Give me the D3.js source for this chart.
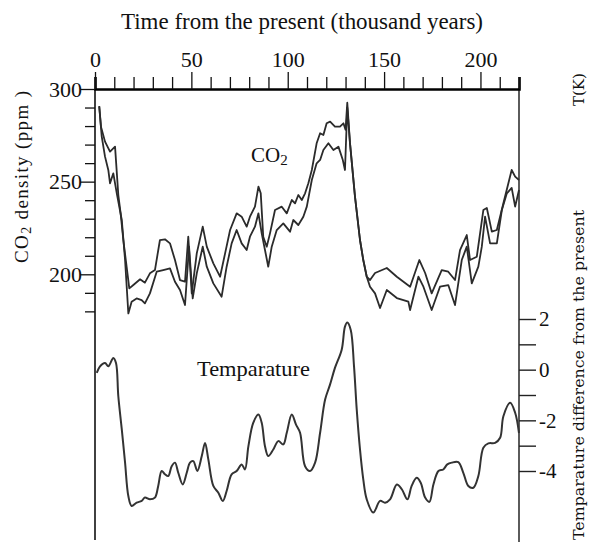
<!DOCTYPE html>
<html>
<head>
<meta charset="utf-8">
<script src="https://cdn.jsdelivr.net/npm/d3@7/dist/d3.min.js"></script>
<style>
  html, body { margin: 0; padding: 0; background: #fff; }
  svg { display: block; }
  text { font-family: "Liberation Serif", "Times New Roman", serif; fill: #111; }
</style>
</head>
<body>
<svg id="chart" width="592" height="542"></svg>
<script>
// Age in thousand years before present, CO2 in ppm (two ice-core envelope traces)
const co2Upper = [
  [2.2,290.8],[3.1,279.7],[5.2,271.6],[7.8,266.2],[10.4,268.9],[12.1,242.8],[13.3,232.9],[14.7,218.5],
  [16.4,204.1],[17.8,192.4],[19.9,194.2],[23.4,197.3],[25.9,195.5],[28.5,200.5],[31.1,202.3],[33.7,218.5],
  [36.3,218.9],[38.9,216.7],[41.5,207.7],[44.1,196.9],[46.7,196.0],[48.4,220.3],[50.2,189.7],[52.8,211.3],
  [55.9,225.7],[58.0,214.9],[61.4,205.9],[64.9,198.7],[67.5,211.3],[70.1,223.9],[73.5,232.9],[76.1,231.1],
  [78.7,225.7],[80.4,231.1],[83.0,236.5],[84.8,247.3],[86.0,243.7],[87.3,220.3],[89.1,214.9],[90.8,222.1],
  [93.4,234.7],[96.9,236.5],[99.5,232.9],[102.1,240.1],[103.8,238.3],[105.5,242.8],[107.3,240.1],[109.0,243.7],
  [110.7,249.1],[112.5,256.3],[115.0,270.7],[116.8,276.1],[118.5,275.2],[120.2,281.5],[122.0,282.4],[124.5,279.7],
  [127.1,279.7],[128.9,281.5],[130.0,278.0],[130.9,292.6],[132.3,270.9],[134.9,241.9],[137.5,218.5],[139.2,207.7],
  [141.0,198.7],[142.7,196.9],[145.3,200.7],[151.4,203.4],[156.6,198.7],[163.5,193.3],[168.3,207.7],[171.3,200.7],
  [174.7,189.7],[179.9,202.3],[183.3,201.4],[186.8,196.9],[189.4,213.1],[192.9,221.2],[194.6,207.7],[198.1,209.5],
  [201.5,234.7],[203.3,235.8],[205.9,223.0],[208.5,223.9],[211.9,238.3],[216.2,256.3],[218.0,252.7],[220.0,250.9]
];
const co2Lower = [
  [2.2,290.4],[3.5,274.3],[5.2,263.5],[6.9,256.3],[7.8,249.1],[9.5,254.5],[11.3,243.7],[13.9,229.3],
  [15.6,207.7],[17.3,178.9],[19.0,185.2],[21.6,187.0],[24.2,186.1],[25.9,184.3],[28.5,189.7],[32.0,201.4],
  [35.4,202.3],[38.9,203.2],[41.5,196.0],[44.1,191.5],[46.7,183.4],[48.8,214.9],[50.7,187.0],[52.8,200.5],
  [55.9,214.9],[58.0,204.1],[61.4,195.1],[65.7,187.9],[68.3,204.1],[70.9,216.7],[73.5,223.9],[76.1,216.7],
  [78.7,213.1],[80.4,220.3],[83.0,225.7],[84.8,232.9],[86.5,222.1],[88.2,213.1],[89.9,204.1],[91.7,214.9],
  [94.3,223.9],[97.7,227.5],[101.2,223.0],[102.9,229.3],[105.5,226.6],[108.1,231.1],[109.9,236.5],[112.5,250.9],
  [115.0,259.9],[116.8,261.7],[118.5,267.1],[121.1,270.7],[123.7,267.1],[126.3,268.9],[128.5,262.0],[129.7,256.3],
  [130.9,290.0],[132.3,270.9],[134.9,241.9],[137.5,218.5],[139.2,207.7],[141.0,198.7],[142.7,193.3],[145.3,189.7],
  [147.9,181.8],[151.4,191.5],[156.6,187.2],[162.6,185.2],[163.5,180.7],[167.8,198.7],[170.4,193.3],[174.7,180.7],
  [179.0,193.3],[183.3,194.2],[186.8,183.4],[190.3,207.7],[192.9,214.9],[195.5,195.1],[198.9,204.1],[200.7,214.9],
  [202.4,231.1],[205.0,216.7],[208.5,216.7],[211.1,234.7],[213.7,243.7],[216.2,246.6],[218.0,236.5],[220.0,245.5]
];
// Temperature difference from the present, K
const tempDiff = [
  [0.9,-0.13],[2.6,0.13],[5.2,0.26],[6.9,0.13],[9.5,0.46],[10.9,0.26],[12.1,-1.05],[13.9,-2.36],
  [15.6,-3.67],[17.3,-4.99],[19.0,-5.38],[21.6,-5.25],[24.2,-5.18],[25.9,-5.05],[28.5,-5.12],[31.1,-5.05],
  [32.8,-4.59],[34.6,-4.0],[36.3,-4.13],[38.0,-4.20],[39.8,-3.81],[41.5,-3.67],[43.2,-4.07],[45.5,-4.53],
  [47.6,-4.07],[49.3,-3.67],[51.0,-3.61],[53.1,-4.0],[55.4,-3.41],[57.1,-2.89],[58.8,-3.54],[61.4,-4.59],
  [64.0,-4.86],[66.3,-5.18],[68.3,-4.79],[70.9,-4.13],[73.5,-4.0],[76.1,-3.74],[77.8,-3.94],[79.6,-3.02],
  [82.1,-2.10],[84.8,-1.77],[86.5,-2.10],[88.2,-3.02],[89.9,-3.41],[92.5,-3.15],[95.1,-2.82],[97.7,-2.95],
  [99.5,-2.49],[102.1,-1.77],[104.3,-2.17],[106.4,-2.49],[109.0,-3.81],[111.6,-4.0],[114.2,-3.67],[116.8,-2.49],
  [119.4,-1.18],[121.9,-0.6],[124.5,0.07],[128.0,0.79],[129.7,1.70],[130.9,1.86],[132.7,1.57],[134.4,0.13],
  [135.8,-1.57],[137.5,-3.15],[139.2,-4.33],[141.0,-5.12],[144.4,-5.64],[147.9,-5.18],[150.5,-5.25],[153.1,-5.12],
  [156.6,-4.53],[159.2,-4.72],[162.1,-5.12],[164.3,-4.59],[166.9,-4.27],[169.0,-4.46],[171.3,-5.05],[173.5,-5.22],
  [175.6,-4.53],[178.2,-4.0],[180.7,-3.94],[182.8,-3.74],[185.1,-3.67],[188.5,-3.65],[191.1,-4.07],[193.7,-4.59],
  [196.3,-4.66],[198.9,-4.20],[201.5,-3.08],[204.1,-2.91],[207.6,-2.89],[210.2,-2.69],[211.9,-1.84],[215.4,-1.31],
  [218.0,-1.70],[220.0,-2.5]
];

const ageTicks = d3.range(0, 221, 10);
const ageLabels = [0, 50, 100, 150, 200];
const co2Ticks = d3.range(180, 301, 10);
const co2Labels = [200, 250, 300];
const tempTicks = d3.range(-4, 3, 1);
const tempLabels = [-4, -2, 0, 2];

const svg = d3.select("#chart");

const x = d3.scaleLinear().domain([0, 220]).range([95, 519]);
const yC = d3.scaleLinear().domain([200, 300]).range([274.3, 89]);
const yT = d3.scaleLinear().domain([-4, 2]).range([471, 319]);

// frame sides
svg.append("line").attr("x1", x(0)).attr("x2", x(0)).attr("y1", yC(300)).attr("y2", 540)
  .attr("stroke", "#111").attr("stroke-width", 1.6);
svg.append("line").attr("x1", x(220)).attr("x2", x(220)).attr("y1", yC(300)).attr("y2", 542)
  .attr("stroke", "#333").attr("stroke-width", 1.6);

// top time axis
const gTop = svg.append("g").attr("transform", `translate(0,${yC(300)})`)
  .call(d3.axisTop(x).tickValues(ageTicks).tickSize(12).tickPadding(5)
    .tickFormat(d => ageLabels.includes(d) ? d : ""));
gTop.select(".domain").attr("stroke", "#000").attr("stroke-width", 2.6);
gTop.selectAll(".tick line").attr("stroke", "#111").attr("stroke-width", 1.3)
  .attr("y2", d => ageLabels.includes(d) ? -17 : -12);
gTop.selectAll(".tick text").attr("y", -22)
  .style("font-family", "Liberation Serif").style("font-size", "22px").attr("fill", "#111");

// left CO2 axis
const gLeft = svg.append("g").attr("transform", `translate(${x(0)},0)`)
  .call(d3.axisLeft(yC).tickValues(co2Ticks).tickSize(10).tickPadding(1)
    .tickFormat(d => co2Labels.includes(d) ? d : ""));
gLeft.select(".domain").remove();
gLeft.selectAll(".tick line").attr("stroke", "#111").attr("stroke-width", 1.3)
  .attr("x2", d => co2Labels.includes(d) ? -15 : -10);
gLeft.selectAll(".tick text").attr("x", -13)
  .style("font-family", "Liberation Serif").style("font-size", "22px").attr("fill", "#111");

// right temperature axis
const gRight = svg.append("g").attr("transform", `translate(${x(220)},0)`)
  .call(d3.axisRight(yT).tickValues(tempTicks).tickSize(17).tickPadding(3)
    .tickFormat(d => tempLabels.includes(d) ? String(d) : ""));
gRight.select(".domain").remove();
gRight.selectAll(".tick line").attr("stroke", "#222").attr("stroke-width", 1.4);
gRight.selectAll(".tick text")
  .style("font-family", "Liberation Serif").style("font-size", "21px").attr("fill", "#111");

// curves
const lineC = d3.line().x(d => x(d[0])).y(d => yC(d[1]));
const lineT = d3.line().x(d => x(d[0])).y(d => yT(d[1])).curve(d3.curveCatmullRom.alpha(0.5));

[co2Upper, co2Lower].forEach(s => {
  svg.append("path").datum(s).attr("d", lineC)
    .attr("fill", "none").attr("stroke", "#2b2b2b").attr("stroke-width", 1.8)
    .attr("stroke-linejoin", "round");
});
svg.append("path").datum(tempDiff).attr("d", lineT)
  .attr("fill", "none").attr("stroke", "#333").attr("stroke-width", 2)
  .attr("stroke-linejoin", "round");

// titles and labels
svg.append("text").attr("x", 302).attr("y", 29).attr("text-anchor", "middle")
  .attr("textLength", 362).attr("lengthAdjust", "spacingAndGlyphs")
  .style("font-size", "23px").text("Time from the present (thousand years)");

const co2Lab = svg.append("text").attr("x", 251).attr("y", 162).style("font-size", "21px");
co2Lab.append("tspan").text("CO");
co2Lab.append("tspan").attr("dy", 3).style("font-size", "15px").text("2");

svg.append("text").attr("x", 197).attr("y", 376)
  .attr("textLength", 113).attr("lengthAdjust", "spacingAndGlyphs")
  .style("font-size", "21px").text("Temparature");

const yLab = svg.append("text").attr("transform", "translate(28,177) rotate(-90)")
  .attr("text-anchor", "middle").style("font-size", "19px")
  .attr("textLength", 172).attr("lengthAdjust", "spacing");
yLab.append("tspan").text("CO");
yLab.append("tspan").attr("dy", 3).style("font-size", "14px").text("2");
yLab.append("tspan").attr("dy", -3).text(" density  (ppm )");

svg.append("text").attr("transform", "translate(584,540) rotate(-90)")
  .attr("textLength", 330).attr("lengthAdjust", "spacingAndGlyphs")
  .style("font-family", "DejaVu Serif").style("font-size", "15px").attr("fill", "#222")
  .text("Temparature difference from the present");
svg.append("text").attr("transform", "translate(584,106) rotate(-90)")
  .style("font-family", "DejaVu Serif").style("font-size", "15px").attr("fill", "#222")
  .text("T(K)");
</script>
</body>
</html>
